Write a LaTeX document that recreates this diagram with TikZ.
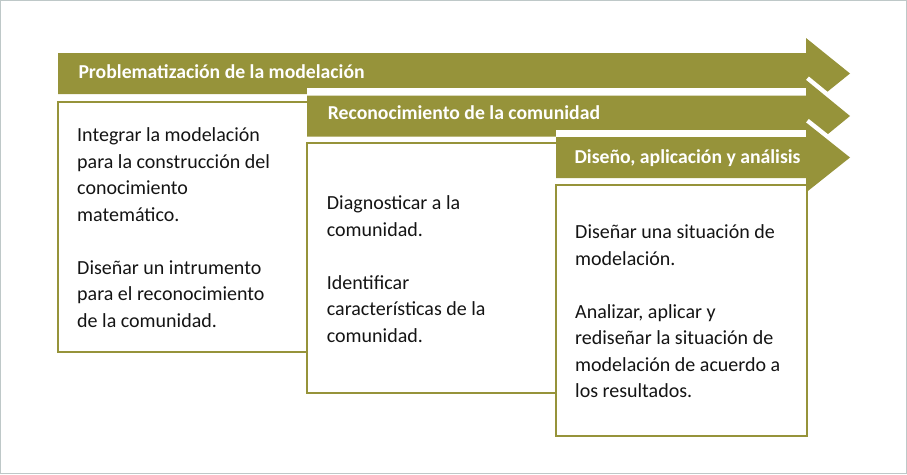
\documentclass[tikz,border=0pt]{standalone}
\usepackage{fontspec}
\setmainfont{Carlito}
\definecolor{oliveband}{RGB}{150,147,58}
\definecolor{framegray}{RGB}{190,200,200}
\definecolor{bodytext}{RGB}{20,20,20}
\tikzset{
  band/.style={fill=oliveband},
  boxline/.style={draw=oliveband, line width=2.5pt},
  cutline/.style={draw=white, line width=9pt},
  blankarea/.style={fill=white},
  title/.style={anchor=base west, inner sep=0pt, text=white, font=\fontsize{19.7}{23}\selectfont\bfseries},
  body/.style={anchor=north west, inner sep=0pt, align=left, text=bodytext, font=\fontsize{20}{26.5}\selectfont}
}
\begin{document}
\begin{tikzpicture}[x=1pt,y=-1pt]
\useasboundingbox (0,0) rectangle (907,474);
\draw[framegray, line width=1.2pt] (0.6,0.6) rectangle (906.4,473.4);

% group 1
\fill[band] (58,53) -- (806,53) -- (806,38) -- (850,73.5) -- (806,109) -- (806,94) -- (58,94) -- cycle;
\draw[boxline] (58,102) rectangle (807,352);

% group 2
\fill[blankarea] (307,88) rectangle (809.5,395);
\begin{scope}
  \clip (806,0) rectangle (907,474);
  \draw[cutline] (806,80) -- (850,116);
\end{scope}
\fill[band] (307,95.5) -- (806,95.5) -- (806,80) -- (850,116) -- (806,152) -- (806,136.5) -- (307,136.5) -- cycle;
\draw[boxline] (307,143) rectangle (807,393);

% group 3
\fill[blankarea] (556,130) rectangle (809.5,438);
\begin{scope}
  \clip (806,0) rectangle (907,474);
  \draw[cutline] (806,122.5) -- (850,157.5);
\end{scope}
\fill[band] (556,137) -- (806,137) -- (806,122.5) -- (850,157.5) -- (806,192.5) -- (806,178) -- (556,178) -- cycle;
\draw[boxline] (556,185) rectangle (807,436);

% titles
\node[title] (t1) at (78.3,78.3) {Problematización de la modelación};
\node[title] (t2) at (327.7,119.3) {Reconocimiento de la comunidad};
\node[title] (t3) at (574.3,163.3) {Diseño, aplicación y análisis};

% bodies
\node[body] (b1) at (77,123.2) {\strut Integrar la modelación\\para la construcción del\\conocimiento\\matemático.\\[26.5pt]Diseñar un intrumento\\para el reconocimiento\\de la comunidad.};
\node[body] (b2) at (326.7,190.8) {\strut Diagnosticar a la\\comunidad.\\[26.5pt]Identificar\\características de la\\comunidad.};
\node[body] (b3) at (575,219.8) {\strut Diseñar una situación de\\modelación.\\[26.5pt]Analizar, aplicar y\\rediseñar la situación de\\modelación de acuerdo a\\los resultados.};
\end{tikzpicture}
\end{document}
